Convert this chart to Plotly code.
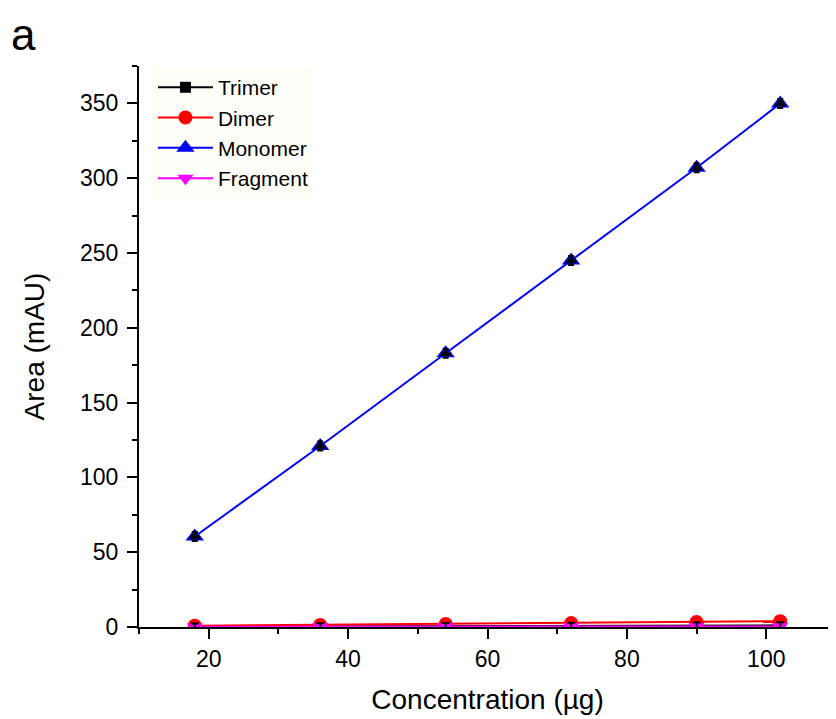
import plotly.graph_objects as go

# Data
concentration = [18, 36, 54, 72, 90, 102]
trimer = [0.3, 0.5, 0.6, 0.8, 1.0, 1.1]
dimer = [0.8, 1.4, 2.0, 2.6, 3.3, 3.9]
monomer = [60.5, 121.0, 183.0, 245.0, 307.0, 350.0]
fragment = [0.2, 0.2, 0.3, 0.3, 0.3, 0.3]
monomer_err = [3, 3, 3, 3, 3, 3]
trimer_err = [2, 2, 2, 2, 2, 2]

FONT = "Liberation Sans, Arial, sans-serif"

fig = go.Figure()
fig.add_trace(go.Scatter(
    x=concentration, y=trimer, name="Trimer", mode="lines+markers",
    line=dict(color="black", width=2),
    marker=dict(symbol="square", size=11, color="black"),
))
fig.add_trace(go.Scatter(
    x=concentration, y=dimer, name="Dimer", mode="lines+markers",
    line=dict(color="#ff0000", width=2),
    marker=dict(symbol="circle", size=14, color="#ff0000"),
))
fig.add_trace(go.Scatter(
    x=concentration, y=monomer, name="Monomer", mode="lines+markers",
    line=dict(color="#0000ff", width=2),
    marker=dict(symbol="triangle-up", size=16, color="#0000ff"),
))
fig.add_trace(go.Scatter(
    x=concentration, y=fragment, name="Fragment", mode="lines+markers",
    line=dict(color="#ff00ff", width=2),
    marker=dict(symbol="triangle-down", size=14, color="#ff00ff"),
))
# error bars of the monomer drawn on top of the markers
fig.add_trace(go.Scatter(
    x=concentration, y=monomer, mode="markers", showlegend=False,
    marker=dict(symbol="triangle-up", size=11, color="black"),
    error_y=dict(type="data", array=monomer_err, color="black", thickness=2, width=3),
    hoverinfo="skip",
))
# trimer error bars on top
fig.add_trace(go.Scatter(
    x=concentration, y=trimer, mode="markers", showlegend=False,
    marker=dict(size=1, color="rgba(0,0,0,0)"),
    error_y=dict(type="data", array=trimer_err, color="black", thickness=2, width=4),
    hoverinfo="skip",
))

axis_common = dict(
    showline=True, linecolor="black", linewidth=2,
    ticks="outside", ticklen=10, tickwidth=2, tickcolor="black",
    showgrid=False, zeroline=False, mirror=False,
    tickfont=dict(family=FONT, size=23, color="black"),
)

fig.update_xaxes(
    range=[10, 110], dtick=20, tick0=0,
    minor=dict(dtick=10, ticks="outside", ticklen=5, tickwidth=2, tickcolor="black"),
    title=dict(text="Concentration (µg)", font=dict(family=FONT, size=28, color="black"), standoff=19),
    **axis_common,
)
fig.update_yaxes(
    range=[0, 375], dtick=50, tick0=0,
    minor=dict(dtick=25, ticks="outside", ticklen=5, tickwidth=2, tickcolor="black"),
    title=dict(text="Area (mAU)", font=dict(family=FONT, size=28, color="black"), standoff=27),
    ticklabelstandoff=4,
    **axis_common,
)

fig.update_layout(
    width=828, height=711,
    margin=dict(l=131, r=0, t=58, b=92),
    paper_bgcolor="white", plot_bgcolor="white",
    font=dict(family=FONT, color="black"),
    showlegend=True,
    legend=dict(
        x=0.02, y=0.998, xanchor="left", yanchor="top",
        bgcolor="#fffffa", borderwidth=0,
        font=dict(family=FONT, size=21, color="black"),
        tracegroupgap=0, itemwidth=55,
    ),
    annotations=[dict(
        text="a", xref="paper", yref="paper", x=-0.165, y=1.103,
        xanchor="center", yanchor="top", showarrow=False,
        font=dict(family=FONT, size=44, color="black"),
    )],
)

fig.write_html("out.html")
